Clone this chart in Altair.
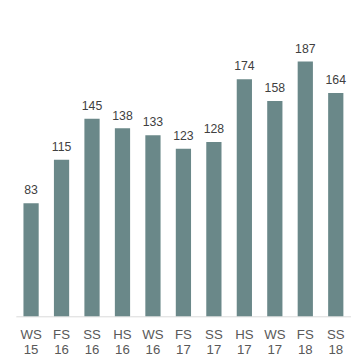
import altair as alt
import pandas as pd

terms = ["WS 15", "FS 16", "SS 16", "HS 16", "WS 16", "FS 17", "SS 17", "HS 17", "WS 17", "FS 18", "SS 18"]
values = [83, 115, 145, 138, 133, 123, 128, 174, 158, 187, 164]

df = pd.DataFrame({"term": terms, "value": values})

x = alt.X("term:N", sort=terms, title=None,
          scale=alt.Scale(paddingInner=0.5, paddingOuter=0.25),
          axis=alt.Axis(labelAngle=0, ticks=False, domainColor="#d9d9d9",
                        labelColor="#595959", labelFont="Liberation Sans", labelFontSize=13.5,
                        labelPadding=12, labelLineHeight=15,
                        labelExpr="split(datum.label, ' ')"))
y = alt.Y("value:Q", title=None, scale=alt.Scale(domain=[0, 200], nice=False),
          axis=None)

bars = alt.Chart(df).mark_bar(color="#6a8889").encode(x=x, y=y)
text = alt.Chart(df).mark_text(baseline="bottom", dy=-6, font="Liberation Sans",
                               fontSize=12.5, color="#404040").encode(
    x=alt.X("term:N", sort=terms), y="value:Q", text="value:Q")

chart = (bars + text).properties(
    width=342, height=278,
    padding={"left": 8, "right": 0, "top": 32, "bottom": 3}
).configure_view(stroke=None)

chart.save("out.html", embed_options={"renderer": "svg", "actions": False})
